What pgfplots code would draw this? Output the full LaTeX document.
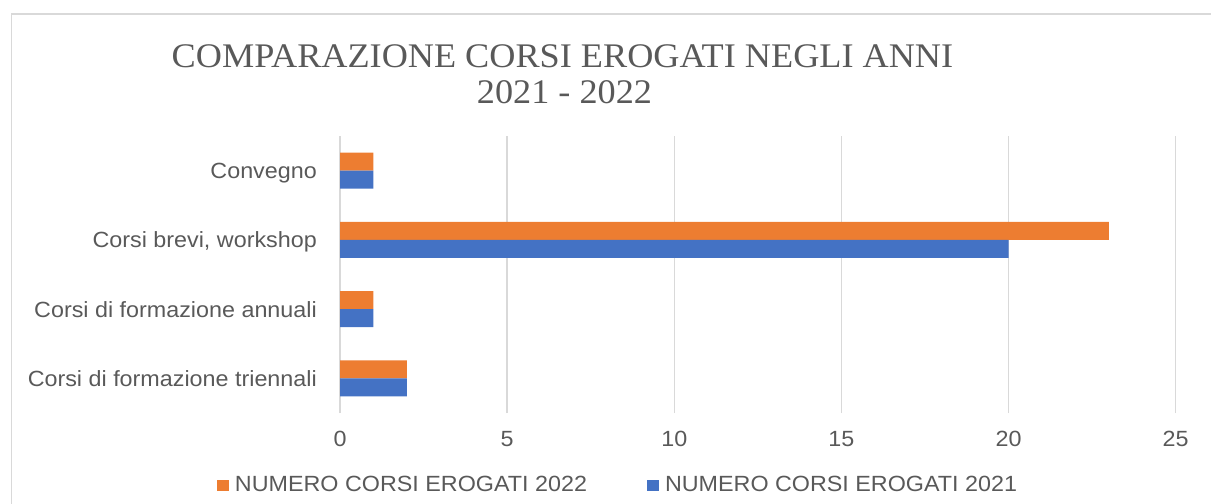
\documentclass[border=0pt]{standalone}
\usepackage{pgfplots}
\pgfplotsset{compat=1.18}
\usepackage{fontspec}
\setmainfont{Liberation Sans}[FakeStretch=1.06]
\newfontfamily\titlefont{Liberation Serif}[FakeStretch=1.05]
\definecolor{txt}{HTML}{595959}
\definecolor{grd}{HTML}{D9D9D9}
\definecolor{org}{HTML}{ED7D31}
\definecolor{blu}{HTML}{4472C4}
\begin{document}
\begin{tikzpicture}
\path[use as bounding box] (0bp,0bp) rectangle (1211bp,504bp);
\draw[grd, line width=1.3bp] (11.5bp,0bp) -- (11.5bp,490bp) -- (1211bp,490bp);
\node[anchor=base, text=txt, inner sep=0pt, font=\titlefont\fontsize{34.5bp}{40bp}\selectfont] at (562.5bp,436bp) {COMPARAZIONE CORSI EROGATI NEGLI ANNI};
\node[anchor=base, text=txt, inner sep=0pt, font=\titlefont\fontsize{34.5bp}{40bp}\selectfont] at (564.5bp,400bp) {2021 - 2022};
\begin{axis}[
  at={(340bp,91bp)}, anchor=south west, scale only axis,
  width=835.7bp, height=277bp,
  xbar, bar width=18bp,
  xmin=0, xmax=25, ymin=-0.5, ymax=3.5,
  xtick={0,5,10,15,20,25}, ytick={0,1,2,3},
  yticklabels={Corsi di formazione triennali, Corsi di formazione annuali, {Corsi brevi, workshop}, Convegno},
  xmajorgrids, grid style={grd, line width=1.3bp},
  axis line style={draw=none}, major tick length=0pt,
  tick label style={font=\fontsize{22bp}{26bp}\selectfont, text=txt},
  /pgf/number format/assume math mode=true,
  xticklabel style={anchor=center, yshift=-26bp},
  yticklabel style={anchor=east, inner sep=0pt, xshift=-23bp, text height=15.75bp, text depth=0pt},
  legend columns=2,
  legend style={at={(-0.1472,-0.26)}, anchor=west, draw=none, fill=none,
    inner sep=0pt, outer sep=0pt, font=\fontsize{22bp}{26bp}\selectfont, text=txt,
    nodes={inner sep=0pt},
    /tikz/every odd column/.append style={column sep=6bp},
    /tikz/every even column/.append style={column sep=60bp}},
  legend image code/.code={\fill[#1] (0bp,-5.5bp) rectangle (12bp,5.5bp);},
]
\addplot[fill=org, draw=none, bar shift=9bp] coordinates {(2,0) (1,1) (23,2) (1,3)};
\addlegendentry{NUMERO CORSI EROGATI 2022}
\addplot[fill=blu, draw=none, bar shift=-9bp] coordinates {(2,0) (1,1) (20,2) (1,3)};
\addlegendentry{NUMERO CORSI EROGATI 2021}
\end{axis}
\end{tikzpicture}
\end{document}
